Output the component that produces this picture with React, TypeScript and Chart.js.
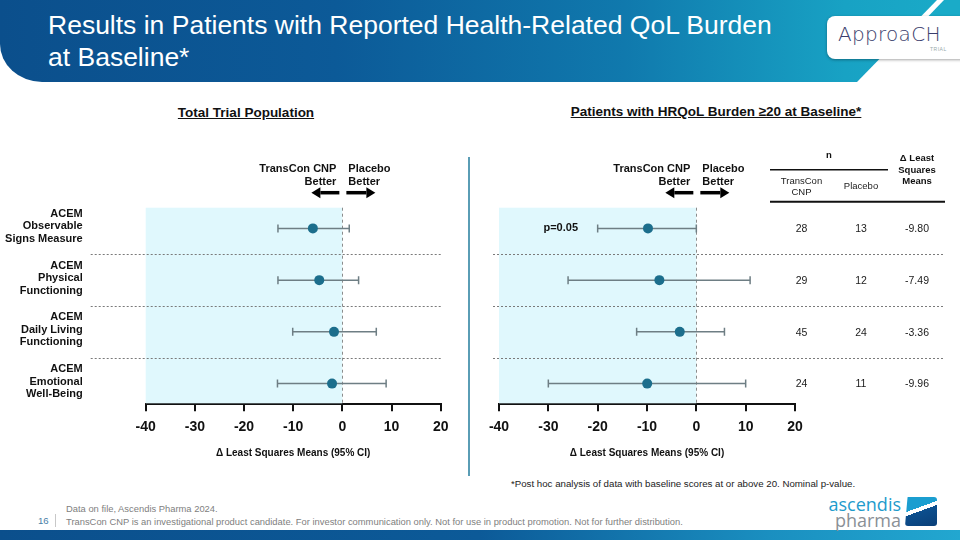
import React, { useEffect, useRef } from "react";
import { Chart, registerables } from "chart.js";
Chart.register(...registerables);

const FONT = '"Liberation Sans", Arial, sans-serif';

// ---------------- data ----------------
const rowLabels: string[][] = [
  ["ACEM", "Observable", "Signs Measure"],
  ["ACEM", "Physical", "Functioning"],
  ["ACEM", "Daily Living", "Functioning"],
  ["ACEM", "Emotional", "Well-Being"],
];
const totalEst = [-6.0, -4.7, -1.7, -2.1];
const totalLo = [-13.1, -13.1, -10.1, -13.2];
const totalHi = [1.4, 3.3, 6.9, 8.9];

const burdenEst = [-9.8, -7.49, -3.36, -9.96];
const burdenLo = [-20.0, -26.0, -12.1, -30.0];
const burdenHi = [0.0, 10.9, 5.7, 10.0];
const burdenP = ["p=0.05", "", "", ""];
const nTransCon = [28, 29, 45, 24];
const nPlacebo = [13, 12, 24, 11];

const xTicks = [-40, -30, -20, -10, 0, 10, 20];
const xMin = -40;
const xMax = 20;
const axisTitle = "\u0394 Least Squares Means (95% CI)";

type ForestProps = {
  est: number[];
  lo: number[];
  hi: number[];
  left: number;
  width: number;
  padLeft: number;
  padRight: number;
  mode: "total" | "burden";
};

function drawArrow(ctx: CanvasRenderingContext2D, x1: number, x2: number, y: number) {
  const dir = Math.sign(x2 - x1);
  const headLen = 9;
  const headHalf = 5.5;
  ctx.strokeStyle = "#000";
  ctx.fillStyle = "#000";
  ctx.lineWidth = 3.5;
  ctx.setLineDash([]);
  ctx.beginPath();
  ctx.moveTo(x1, y);
  ctx.lineTo(x2 - dir * headLen, y);
  ctx.stroke();
  ctx.beginPath();
  ctx.moveTo(x2, y);
  ctx.lineTo(x2 - dir * headLen, y - headHalf);
  ctx.lineTo(x2 - dir * headLen, y + headHalf);
  ctx.closePath();
  ctx.fill();
}

function Forest(props: ForestProps) {
  const ref = useRef<HTMLCanvasElement | null>(null);
  useEffect(() => {
    const canvas = ref.current;
    if (!canvas) return;
    const { est, lo, hi, mode } = props;
    const rows = est.map((_, i) => i + 1);
    const seps = rows.slice(1).map((r) => r - 0.5);
    const datasets: any[] = [
      {
        type: "scatter",
        data: est.map((v, i) => ({ x: v, y: rows[i] })),
        pointRadius: 5,
        pointHoverRadius: 5,
        backgroundColor: "#1c6e8c",
        borderColor: "#1c6e8c",
        borderWidth: 0,
        order: 0,
      },
    ];
    est.forEach((_, i) => {
      datasets.push({
        type: "scatter",
        showLine: true,
        data: [
          { x: lo[i], y: rows[i] },
          { x: hi[i], y: rows[i] },
        ],
        borderColor: "#6e7e84",
        borderWidth: 1.5,
        pointStyle: "line",
        rotation: 90,
        pointRadius: 4,
        pointHoverRadius: 4,
        pointBorderColor: "#6e7e84",
        pointBorderWidth: 1.5,
        pointBackgroundColor: "#6e7e84",
        order: 1,
      });
    });

    const plugin = {
      id: "forestDecor",
      beforeDatasetsDraw(chart: any) {
        const { ctx, chartArea: ca, scales } = chart;
        const x = scales.x;
        const y = scales.y;
        const x0 = x.getPixelForValue(0);
        const xm = x.getPixelForValue(xMin);
        ctx.save();
        ctx.fillStyle = "#e0f8fd";
        ctx.fillRect(xm, ca.top, x0 - xm, ca.bottom - ca.top - 1);
        ctx.strokeStyle = "#7a7a7a";
        ctx.lineWidth = 1;
        ctx.setLineDash([2, 2]);
        const sepL = mode === "total" ? ca.left - 55 : ca.left - 6;
        const sepR = mode === "total" ? ca.right + 1 : ca.right + 150;
        seps.forEach((s) => {
          const yy = Math.round(y.getPixelForValue(s)) + 0.5;
          ctx.beginPath();
          ctx.moveTo(sepL, yy);
          ctx.lineTo(sepR, yy);
          ctx.stroke();
        });
        ctx.strokeStyle = "#8c8c8c";
        ctx.setLineDash([3, 3]);
        ctx.beginPath();
        ctx.moveTo(Math.round(x0) + 0.5, ca.top);
        ctx.lineTo(Math.round(x0) + 0.5, ca.bottom);
        ctx.stroke();
        ctx.restore();
      },
      afterDraw(chart: any) {
        const { ctx, chartArea: ca, scales } = chart;
        const x = scales.x;
        const y = scales.y;
        const x0 = x.getPixelForValue(0);
        ctx.save();
        ctx.textBaseline = "middle";
        const txt = (s: string, xx: number, yy: number, font: string, align: CanvasTextAlign, color = "#111") => {
          ctx.font = font;
          ctx.textAlign = align;
          ctx.fillStyle = color;
          ctx.fillText(s, xx, yy);
        };
        const bold11 = `bold 11px ${FONT}`;
        // direction labels and arrows
        txt("TransCon CNP", x0 - 6, ca.top - 39, bold11, "right");
        txt("Better", x0 - 6, ca.top - 25.5, bold11, "right");
        txt("Placebo", x0 + 6, ca.top - 39, bold11, "left");
        txt("Better", x0 + 6, ca.top - 25.5, bold11, "left");
        drawArrow(ctx, x0 - 3, x0 - 31, ca.top - 15);
        drawArrow(ctx, x0 + 4, x0 + 33, ca.top - 15);

        if (mode === "total") {
          rowLabels.forEach((lines, i) => {
            const yc = y.getPixelForValue(rows[i]) - 2;
            lines.forEach((ln, k) => {
              txt(ln, ca.left - 63, yc + (k - 1) * 12.5, bold11, "right");
            });
          });
        } else {
          burdenP.forEach((p, i) => {
            if (p) txt(p, x.getPixelForValue(xMin) + 79, y.getPixelForValue(rows[i]), bold11, "right");
          });
          const c1 = ca.right + 6.5;
          const c2 = ca.right + 66;
          const c3 = ca.right + 122;
          const reg = `10.5px ${FONT}`;
          est.forEach((v, i) => {
            const yy = y.getPixelForValue(rows[i]) + 1;
            txt(String(nTransCon[i]), c1, yy, reg, "center", "#1a1a1a");
            txt(String(nPlacebo[i]), c2, yy, reg, "center", "#1a1a1a");
            txt(v.toFixed(2), c3, yy, reg, "center", "#1a1a1a");
          });
          // table header
          const hb = `bold 9.5px ${FONT}`;
          const hr = `9.5px ${FONT}`;
          txt("n", ca.right + 34, ca.top - 52.5, hb, "center");
          txt("\u0394 Least", c3, ca.top - 49.5, hb, "center");
          txt("Squares", c3, ca.top - 37.8, hb, "center");
          txt("Means", c3, ca.top - 26, hb, "center");
          txt("TransCon", c1, ca.top - 26, hr, "center", "#222");
          txt("CNP", c1, ca.top - 15.5, hr, "center", "#222");
          txt("Placebo", c2, ca.top - 21, hr, "center", "#222");
          ctx.strokeStyle = "#111";
          ctx.setLineDash([]);
          ctx.lineWidth = 1.5;
          ctx.beginPath();
          ctx.moveTo(ca.right - 25, ca.top - 38);
          ctx.lineTo(ca.right + 93, ca.top - 38);
          ctx.stroke();
          ctx.lineWidth = 2;
          ctx.beginPath();
          ctx.moveTo(ca.right - 25, ca.top - 6);
          ctx.lineTo(ca.right + 150, ca.top - 6);
          ctx.stroke();
        }
        ctx.restore();
      },
    };

    const chart = new Chart(canvas, {
      type: "scatter",
      data: { datasets },
      options: {
        animation: false,
        responsive: false,
        devicePixelRatio: 1,
        events: [],
        layout: {
          padding: { left: props.padLeft, right: props.padRight, top: 107.7, bottom: 3.7 },
        },
        plugins: {
          legend: { display: false },
          tooltip: { enabled: false },
          title: { display: false },
        },
        scales: {
          x: {
            type: "linear",
            min: xMin,
            max: xMax,
            afterBuildTicks: (s: any) => {
              s.ticks = xTicks.map((v) => ({ value: v }));
            },
            afterFit: (s: any) => {
              s.height = 62;
            },
            ticks: {
              font: { family: FONT, size: 14, weight: "bold" },
              color: "#111",
              padding: 7.5,
              maxRotation: 0,
              autoSkip: false,
            },
            grid: {
              display: true,
              drawOnChartArea: false,
              drawTicks: true,
              tickLength: 7,
              color: "#111",
              lineWidth: 2,
            },
            border: { display: true, color: "#111", width: 2 },
            title: {
              display: true,
              text: axisTitle,
              font: { family: FONT, size: 10, weight: "bold" },
              color: "#111",
              padding: { top: 4, bottom: 7.3 },
            },
          },
          y: {
            type: "linear",
            min: 0.6,
            max: 4.4,
            reverse: true,
            display: false,
          },
        },
      } as any,
      plugins: [plugin],
    });
    return () => chart.destroy();
  }, []);
  return (
    <canvas
      ref={ref}
      width={props.width}
      height={370}
      style={{ position: "absolute", left: props.left, top: 100, width: props.width, height: 370 }}
    />
  );
}

export default function App() {
  return (
    <div
      style={{
        position: "fixed",
        left: 0,
        top: 0,
        width: 960,
        height: 540,
        background: "#fff",
        overflow: "hidden",
        fontFamily: FONT,
      }}
    >
      {/* header banner */}
      <div
        style={{
          position: "absolute",
          left: 0,
          top: 0,
          width: 960,
          height: 82,
          background: "linear-gradient(90deg, #0b4f8c 0%, #0c5a98 35%, #1079ad 65%, #18a2c4 88%, #1aabc8 100%)",
          borderBottomLeftRadius: "42px 38px",
          clipPath: "polygon(0 0, 937px 0, 857px 82px, 0 82px)",
        }}
      />
      <div
        style={{
          position: "absolute",
          left: 0,
          top: 0,
          width: 960,
          height: 82,
          background: "#1aabc8",
          clipPath: "polygon(944px 0, 960px 0, 960px 58px, 888px 58px)",
        }}
      />
      <div
        style={{
          position: "absolute",
          left: 48,
          top: 9,
          color: "#fff",
          fontSize: 26.5,
          lineHeight: "32px",
          whiteSpace: "nowrap",
        }}
      >
        Results in Patients with Reported Health-Related QoL Burden
        <br />
        at Baseline*
      </div>
      {/* logo box */}
      <div
        style={{
          position: "absolute",
          left: 827,
          top: 16,
          width: 150,
          height: 43,
          background: "#fff",
          borderRadius: 8,
          boxShadow: "0 1px 3px rgba(0,0,0,0.35)",
        }}
      />
      <div
        style={{
          position: "absolute",
          left: 838,
          top: 22,
          fontFamily: '"DejaVu Sans", sans-serif',
          fontWeight: 200,
          fontSize: 20,
          letterSpacing: 0.3,
          color: "#3a3d6c",
          whiteSpace: "nowrap",
        }}
      >
        ApproaCH
      </div>
      <div
        style={{
          position: "absolute",
          left: 930,
          top: 46,
          fontSize: 5,
          color: "#9aa",
          letterSpacing: 0.5,
        }}
      >
        TRIAL
      </div>

      {/* section titles */}
      <div
        style={{
          position: "absolute",
          left: 246,
          top: 105,
          transform: "translateX(-50%)",
          fontSize: 13.5,
          fontWeight: "bold",
          textDecoration: "underline",
          color: "#111",
          whiteSpace: "nowrap",
        }}
      >
        Total Trial Population
      </div>
      <div
        style={{
          position: "absolute",
          left: 716,
          top: 104,
          transform: "translateX(-50%)",
          fontSize: 13.5,
          fontWeight: "bold",
          textDecoration: "underline",
          color: "#111",
          whiteSpace: "nowrap",
        }}
      >
        Patients with HRQoL Burden ≥20 at Baseline*
      </div>

      <Forest est={totalEst} lo={totalLo} hi={totalHi} left={0} width={470} padLeft={145.7} padRight={29.3} mode="total" />
      <Forest est={burdenEst} lo={burdenLo} hi={burdenHi} left={480} width={480} padLeft={19} padRight={165} mode="burden" />

      {/* divider */}
      <div style={{ position: "absolute", left: 468, top: 157, width: 2, height: 319, background: "#5a9db5" }} />

      {/* footnote */}
      <div
        style={{
          position: "absolute",
          left: 511,
          top: 478,
          fontSize: 9.7,
          color: "#222",
          whiteSpace: "nowrap",
        }}
      >
        *Post hoc analysis of data with baseline scores at or above 20. Nominal p-value.
      </div>

      {/* footer */}
      <div
        style={{
          position: "absolute",
          left: 66,
          top: 503,
          fontSize: 9.4,
          color: "#808080",
          whiteSpace: "nowrap",
        }}
      >
        Data on file, Ascendis Pharma 2024.
      </div>
      <div
        style={{
          position: "absolute",
          left: 38,
          top: 515,
          fontSize: 9.6,
          color: "#4a7fa8",
        }}
      >
        16
      </div>
      <div style={{ position: "absolute", left: 55, top: 514, width: 1, height: 13, background: "#c8c8c8" }} />
      <div
        style={{
          position: "absolute",
          left: 66,
          top: 515.5,
          fontSize: 9.4,
          color: "#808080",
          whiteSpace: "nowrap",
        }}
      >
        TransCon CNP is an investigational product candidate. For investor communication only. Not for use in product
        promotion. Not for further distribution.
      </div>
      <div
        style={{
          position: "absolute",
          left: 0,
          top: 530,
          width: 960,
          height: 10,
          background: "linear-gradient(90deg, #0b4f8c 0%, #0c5a98 50%, #1a8fc0 80%, #22a7d0 100%)",
        }}
      />
      {/* ascendis pharma logo */}
      <div
        style={{
          position: "absolute",
          right: 59,
          top: 496,
          textAlign: "right",
          fontFamily: '"Open Sans", sans-serif',
          fontSize: 18,
          lineHeight: "16px",
          whiteSpace: "nowrap",
        }}
      >
        <div style={{ color: "#1e9bcc" }}>ascendis</div>
        <div style={{ color: "#8a9096" }}>pharma</div>
      </div>
      <div
        style={{
          position: "absolute",
          left: 905,
          top: 497,
          width: 32,
          height: 29,
          borderRadius: 3,
          background:
            "linear-gradient(160deg, #1b9ed0 0%, #1b9ed0 38%, #ffffff 38%, #ffffff 48%, #0c4f8e 48%, #0a3f78 100%)",
          clipPath: "polygon(8% 0, 100% 0, 100% 100%, 0 100%)",
        }}
      />
    </div>
  );
}
